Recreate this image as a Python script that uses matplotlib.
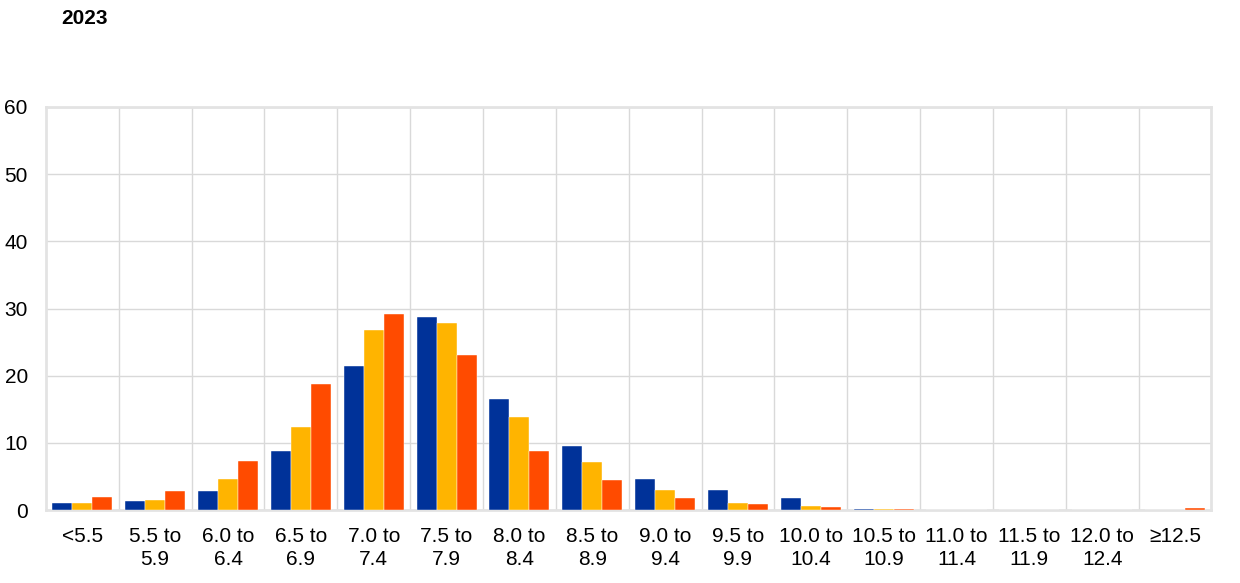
import numpy as np
import matplotlib.pyplot as plt

plt.rcParams['font.family'] = ['Liberation Sans', 'DejaVu Sans']

categories = ['<5.5', '5.5 to\n5.9', '6.0 to\n6.4', '6.5 to\n6.9', '7.0 to\n7.4',
              '7.5 to\n7.9', '8.0 to\n8.4', '8.5 to\n8.9', '9.0 to\n9.4', '9.5 to\n9.9',
              '10.0 to\n10.4', '10.5 to\n10.9', '11.0 to\n11.4', '11.5 to\n11.9',
              '12.0 to\n12.4', '≥12.5']

blue_vals = [1.05, 1.35, 2.9, 8.75, 21.4, 28.7, 16.6, 9.5, 4.7, 3.0, 1.8, 0.15, 0.0, 0.0, 0.0, 0.0]
yellow_vals = [1.0, 1.5, 4.65, 12.4, 26.8, 27.8, 13.9, 7.2, 3.0, 1.1, 0.6, 0.1, 0.0, 0.0, 0.0, 0.0]
orange_vals = [1.9, 2.85, 7.25, 18.8, 29.2, 23.1, 8.75, 4.5, 1.85, 0.85, 0.45, 0.1, 0.05, 0.05, 0.05, 0.3]

colors = ['#003299', '#FFB400', '#FF4B00']
grid_col = '#d9d9d9'

fig = plt.figure(figsize=(12.4, 5.83), dpi=100)
ax = fig.add_axes([0.037, 0.125, 0.94, 0.6915])

x = np.arange(len(categories))
w = 0.275
for i, vals in enumerate([blue_vals, yellow_vals, orange_vals]):
    ax.bar(x + (i - 1) * w, vals, width=w, color=colors[i], zorder=3,
           edgecolor='white', linewidth=0.3)

ax.set_xlim(-0.5, len(categories) - 0.5)
ax.set_ylim(0, 60)
ax.set_yticks(range(0, 61, 10))
ax.set_xticks(x)
ax.set_xticklabels(categories, fontsize=15, linespacing=1.25)
ax.set_xticks(x[:-1] + 0.5, minor=True)
ax.tick_params(axis='both', which='both', length=0, labelsize=15)
ax.tick_params(axis='y', pad=13)
ax.tick_params(axis='x', pad=12)

ax.grid(axis='y', which='major', color=grid_col, linewidth=1, zorder=0)
ax.grid(axis='x', which='minor', color=grid_col, linewidth=1, zorder=0)
ax.grid(axis='x', which='major', visible=False)

for s in ax.spines.values():
    s.set_color('#e3e3e3')
    s.set_linewidth(2)

fig.text(0.049, 0.968, '2023', fontsize=15, fontweight='bold', va='center', ha='left')

fig.savefig('out.png', dpi=100)
